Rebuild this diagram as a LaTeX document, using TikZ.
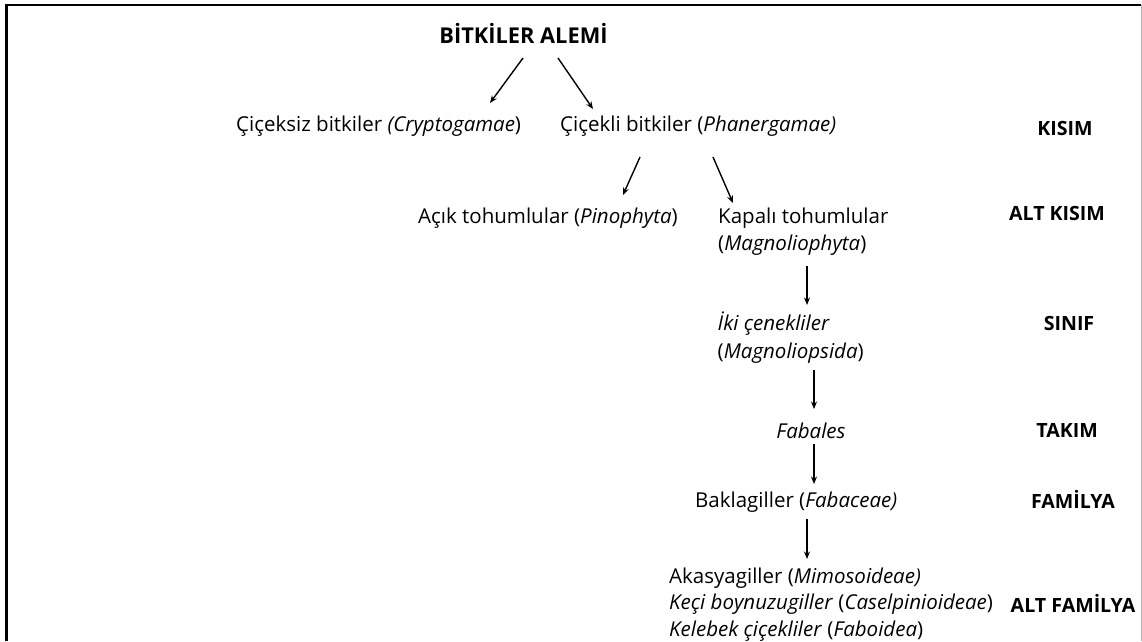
\documentclass[tikz,border=0pt]{standalone}
\usepackage{fontspec}
\setmainfont{Open Sans}
\usetikzlibrary{arrows.meta}
\begin{document}
\begin{tikzpicture}[x=1pt,y=-1pt,
    taxon/.style={inner sep=0pt,font=\fontsize{20.5}{27.3}\selectfont,align=left},
    rank/.style={inner sep=0pt,font=\fontsize{19.6}{23}\selectfont\bfseries},
    arr/.style={-{Stealth[length=7.5pt,width=6pt]},line width=1.4pt}]
  \useasboundingbox (0,0) rectangle (1142,641);
  % frame
  \draw[line width=2.4pt] (6.5,641) -- (6.5,4.7) -- (1141,4.7);
  \draw[black!30,line width=0.8pt] (1141,4.7) -- (1141,641);
  % kingdom
  \node[rank,font=\fontsize{21.8}{25}\selectfont\bfseries,anchor=base] (root) at (523.5,43) {BİTKİLER ALEMİ};
  % taxa (base of a multi-line node = its last line)
  \node[taxon,anchor=base west] (cryp)  at (236,131)   {Çiçeksiz bitkiler \textit{(Cryptogamae})};
  \node[taxon,anchor=base west] (phan)  at (560,131)   {Çiçekli bitkiler (\textit{Phanergamae)}};
  \node[taxon,anchor=base west] (pino)  at (418,223)   {Açık tohumlular (\textit{Pinophyta})};
  \node[taxon,anchor=base west] (magno) at (718,250.3) {Kapalı tohumlular\\(\textit{Magnoliophyta})};
  \node[taxon,anchor=base west] (iki)   at (717.5,358) {\textit{İki çenekliler}\\(\textit{Magnoliopsida})};
  \node[taxon,anchor=base]      (fab)   at (811,438.7) {\textit{Fabales}};
  \node[taxon,anchor=base west] (bakla) at (695,507.8) {Baklagiller (\textit{Fabaceae)}};
  \node[taxon,font=\fontsize{20.5}{26.5}\selectfont,anchor=base west] (sub) at (669,636) {Akasyagiller (\textit{Mimosoideae)}\\
    \textit{Keçi boynuzugiller} (\textit{Caselpinioideae})\\
    \textit{Kelebek çiçekliler} (\textit{Faboidea})};
  % ranks
  \node[rank,anchor=base] (kisim)    at (1065,135)   {KISIM};
  \node[rank,anchor=base] (altkisim) at (1057,220)   {ALT KISIM};
  \node[rank,anchor=base] (sinif)    at (1069,330.6) {SINIF};
  \node[rank,anchor=base] (takim)    at (1067,437.7) {TAKIM};
  \node[rank,anchor=base] (familya)  at (1073,508.8) {FAMİLYA};
  \node[rank,anchor=base] (altfam)   at (1073,612)   {ALT FAMİLYA};
  % arrows
  \draw[arr] ([shift={(-0.5,15)}]root.base) -- ([shift={(254,-28)}]cryp.base west);
  \draw[arr] ([shift={(34.5,15)}]root.base) -- ([shift={(33,-22)}]phan.base west);
  \draw[arr] ([shift={(80,26)}]phan.base west) -- ([shift={(205,-28)}]pino.base west);
  \draw[arr] ([shift={(153,26)}]phan.base west) -- ([shift={(15,-47.3)}]magno.base west);
  \draw[arr] ([shift={(89,15.7)}]magno.base west) -- ([shift={(89.5,-53)}]iki.base west);
  \draw[arr] ([shift={(96.5,12)}]iki.base west) -- ([shift={(3,-29.7)}]fab.base);
  \draw[arr] ([shift={(3,5.3)}]fab.base) -- ([shift={(119,-23.8)}]bakla.base west);
  \draw[arr] ([shift={(112,11.2)}]bakla.base west) -- ([shift={(138,-77)}]sub.base west);
\end{tikzpicture}
\end{document}
